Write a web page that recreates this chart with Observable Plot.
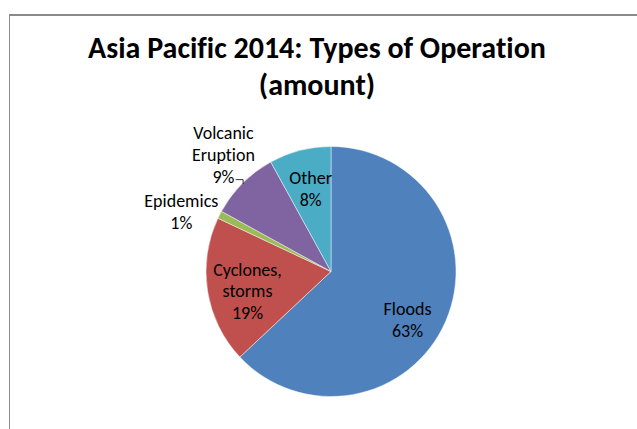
<!DOCTYPE html>
<html><head><meta charset="utf-8">
<script src="https://cdn.jsdelivr.net/npm/d3@7"></script>
<script src="https://cdn.jsdelivr.net/npm/@observablehq/plot@0.6"></script>
<style>
html,body{margin:0;padding:0;background:#fff;overflow:hidden}
#wrap{position:relative;width:637px;height:429px;overflow:hidden;font-family:Carlito,Lato,"Open Sans",sans-serif;color:#000;font-variant-ligatures:none}
#chart{position:absolute;left:0;top:0}
#chart svg{font-variant-ligatures:none}
#frame{position:absolute;left:9px;top:14px;width:700px;height:500px;border-left:1px solid #8a8a8a;border-top:2px solid #8a8a8a;box-sizing:border-box;pointer-events:none;z-index:2}
#title{position:absolute;left:17px;width:600px;top:29px;text-align:center;font-weight:bold;font-size:30px;line-height:37px;z-index:3}
</style></head>
<body>
<div id="wrap">
  <div id="chart"></div>
  <div id="frame"></div>
  <div id="title">Asia Pacific 2014: Types of Operation<br>(amount)</div>
</div>
<script>
// data
const categories = ["Floods", "Cyclones, storms", "Epidemics", "Volcanic Eruption", "Other"];
const percents = [63, 19, 1, 9, 8];
const labelText = ["Floods\n63%", "Cyclones,\nstorms\n19%", "Epidemics\n1%", "Volcanic\nEruption\n9%", "Other\n8%"];
const colors = ["#4F81BD", "#C0504D", "#9BBB59", "#8064A2", "#4BACC6"];

// layout (label placement: angle in degrees clockwise from top, radius as fraction of pie radius)
const placement = {
  "Floods": [121.7, 0.715],
  "Cyclones, storms": [257.6, 0.688],
  "Epidemics": [292, 1.296],
  "Volcanic Eruption": [317.5, 1.28],
  "Other": [346, 0.69]
};

const color = Plot.scale({color: {type: "ordinal", domain: categories, range: colors}});
const arcs = d3.pie().sort(null).value(d => d.value)(categories.map((c, i) => ({name: c, value: percents[i]})));

const labels = categories.map((c, i) => {
  const [a, r] = placement[c];
  const rad = a * Math.PI / 180;
  return {name: c, text: labelText[i], x: r * Math.sin(rad), y: r * Math.cos(rad)};
});

// leader for Volcanic Eruption: from arc midpoint up then left
const va = arcs[3];
const vm = (va.startAngle + va.endAngle) / 2;
const ax = Math.sin(vm), ay = Math.cos(vm);
const leader = [{x: ax, y: ay}, {x: ax, y: ay + 0.032}, {x: ax - 0.056, y: ay + 0.032}];

const pieMark = (index, scales) => {
  const cx = scales.x(0), cy = scales.y(0);
  const R = scales.x(1) - scales.x(0);
  const arc = d3.arc().innerRadius(0).outerRadius(R);
  const g = d3.create("svg:g").attr("transform", `translate(${cx},${cy})`);
  g.selectAll("path").data(arcs).join("path")
    .attr("d", arc)
    .attr("fill", d => color.apply(d.data.name))
    .attr("stroke", "#ffffff")
    .attr("stroke-opacity", 0.6)
    .attr("stroke-width", 0.75);
  return g.node();
};

const chart = Plot.plot({
  width: 637,
  height: 429,
  margin: 0,
  style: {background: "transparent", fontFamily: "Carlito, Lato, 'Open Sans', sans-serif"},
  x: {domain: [-1, 1], range: [206, 456], axis: null},
  y: {domain: [-1, 1], range: [396.5, 146.5], axis: null},
  marks: [
    pieMark,
    Plot.line(leader, {x: "x", y: "y", stroke: "#000", strokeWidth: 0.8}),
    Plot.text(labels, {x: "x", y: "y", text: "text", fontSize: 18, lineHeight: 1.22, fill: "#000"})
  ]
});
document.getElementById("chart").appendChild(chart);
</script>
</body></html>
